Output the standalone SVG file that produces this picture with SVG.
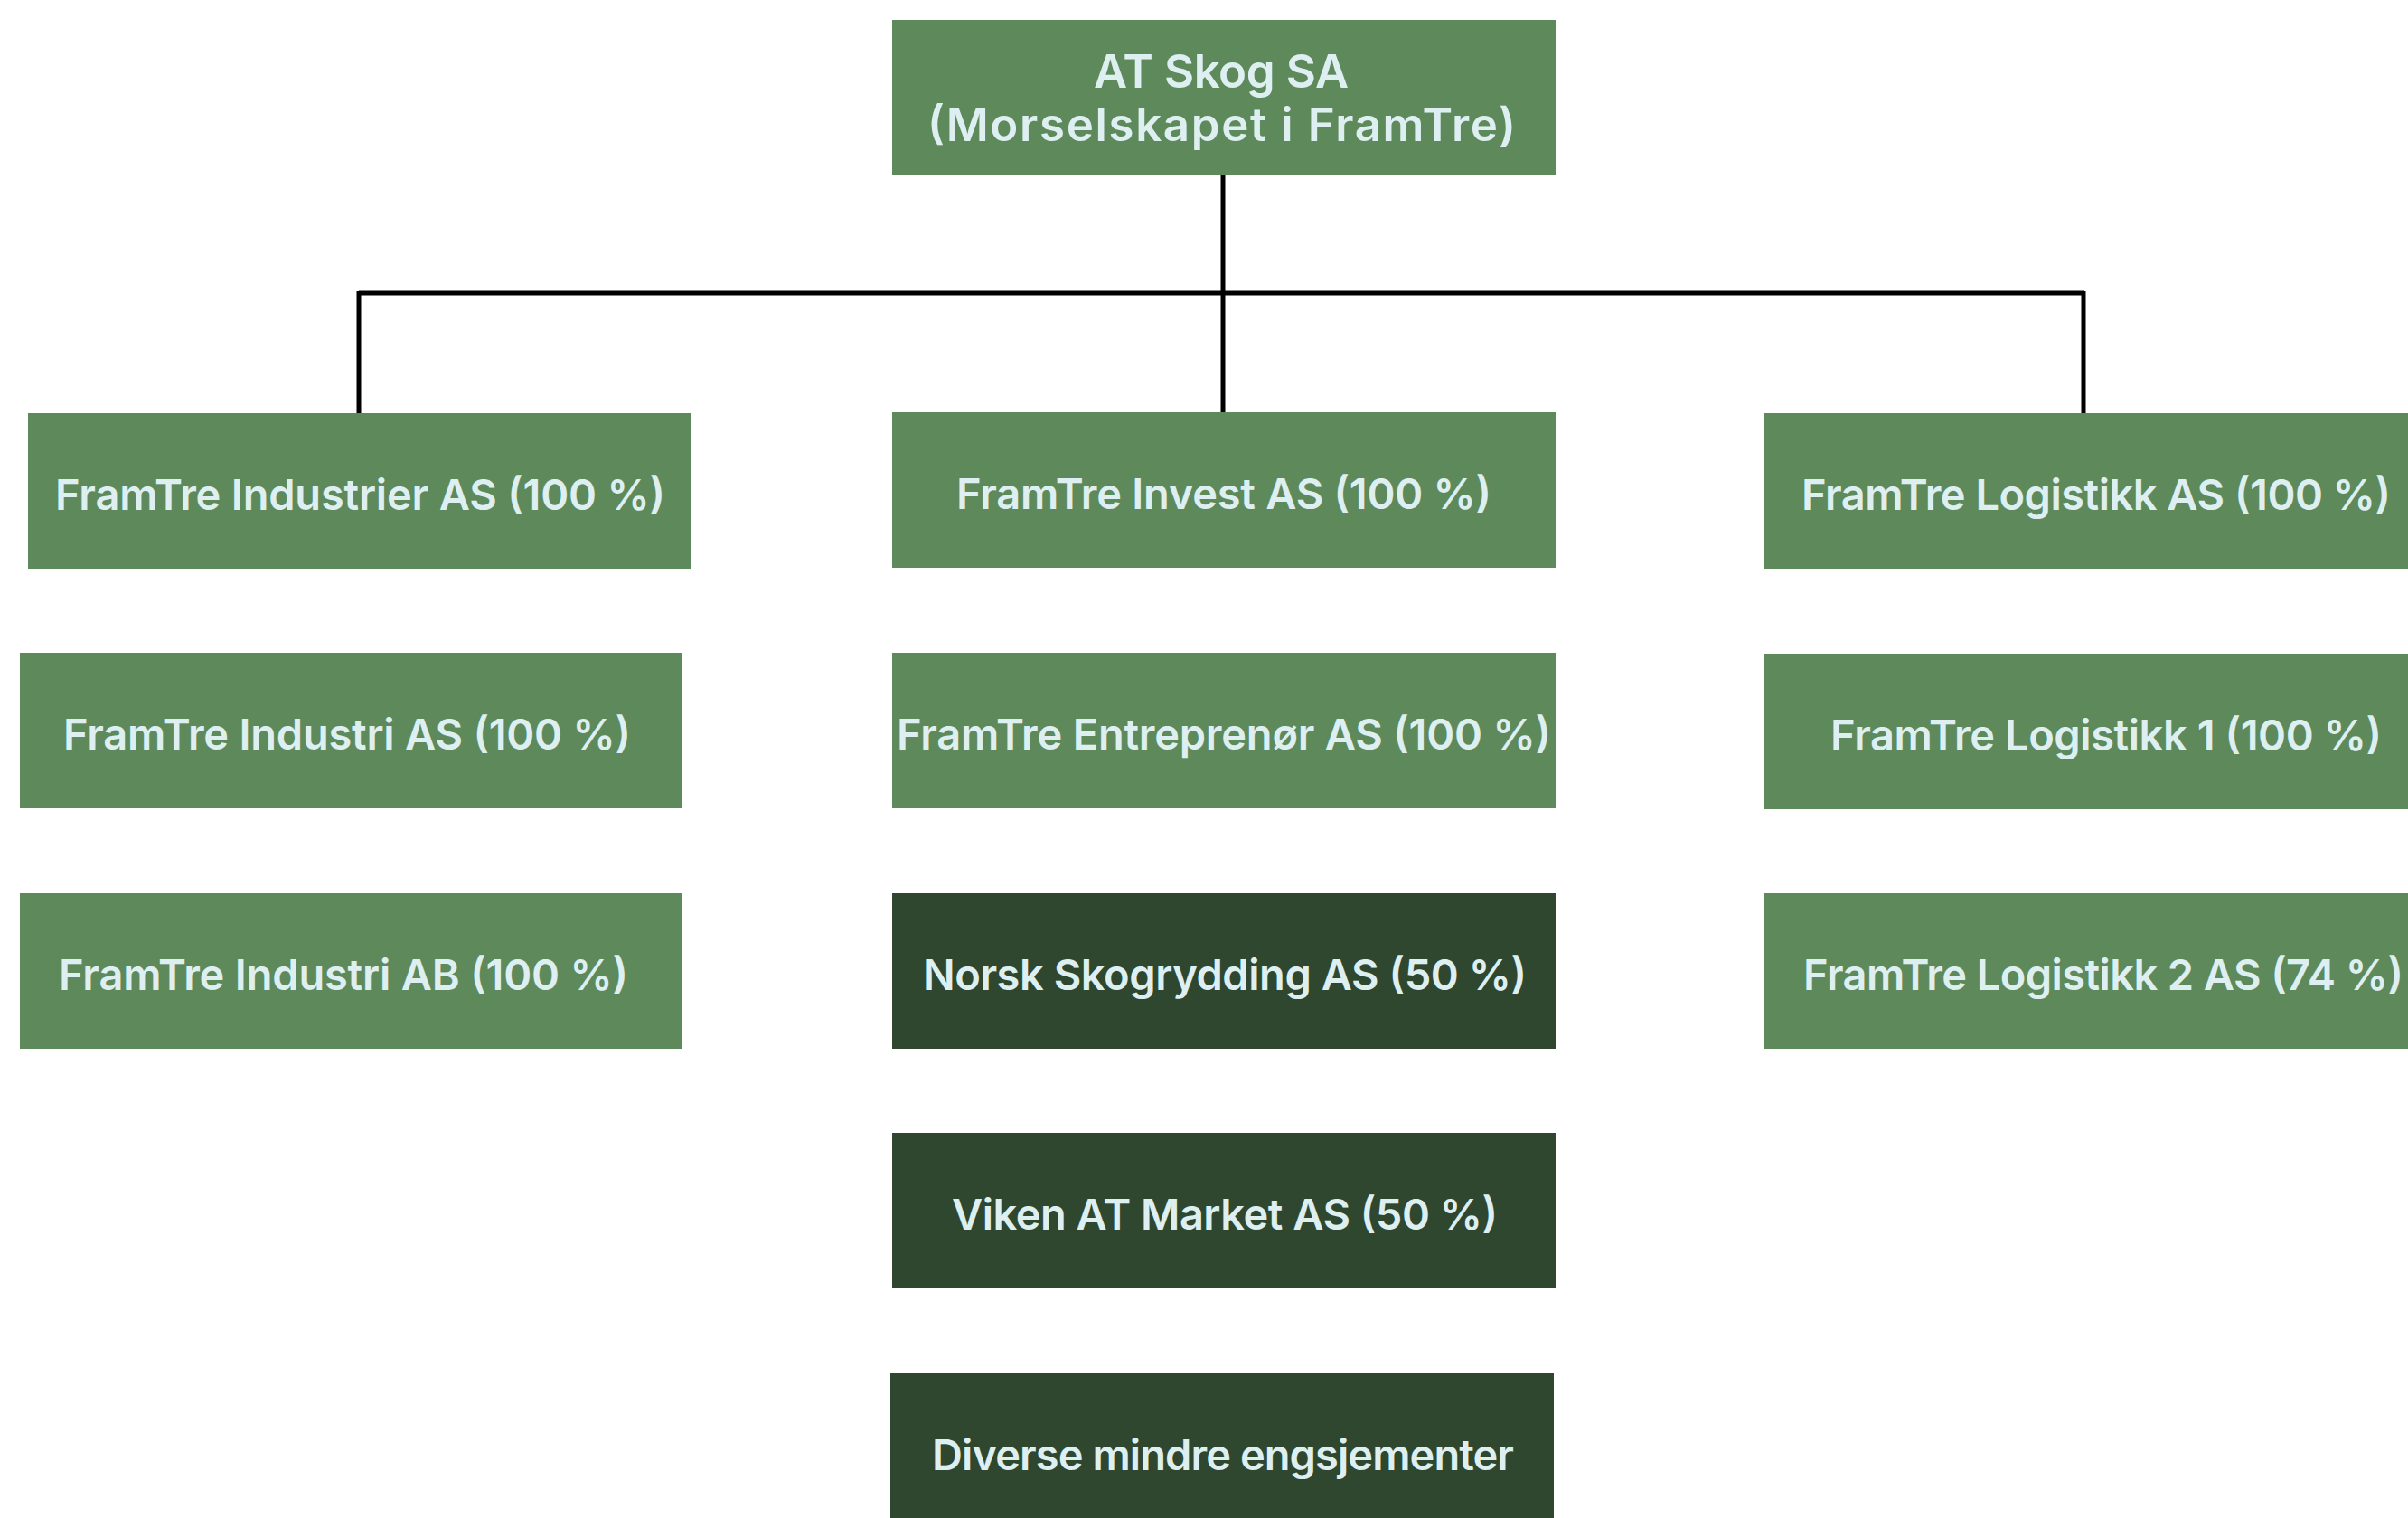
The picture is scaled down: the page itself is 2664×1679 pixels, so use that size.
<svg xmlns="http://www.w3.org/2000/svg" width="2664" height="1679" viewBox="0 0 2664 1679">
<style>
.n{fill:#5E895B}
.d{fill:#2F462F}
.t{font-family:Inter,"Open Sans","Liberation Sans",sans-serif;font-weight:600;font-size:47px;fill:#DDEFF1}
.h{font-size:51px}
.c{stroke:#000;stroke-width:5;fill:none}
</style>
<rect width="2664" height="1679" fill="#fff"/>
<g id="connectors">
<line class="c" x1="1353" y1="194" x2="1353" y2="456"/>
<line class="c" x1="397" y1="324" x2="2306" y2="324"/>
<line class="c" x1="397" y1="322" x2="397" y2="458"/>
<line class="c" x1="2305" y1="322" x2="2305" y2="458"/>
</g>
<g id="at-skog">
<rect class="n" x="987" y="22" width="734" height="172"/>
<text class="t h" x="1210" y="97" textLength="282">AT Skog SA</text>
<text class="t h" x="1026" y="156" textLength="651">(Morselskapet i FramTre)</text>
</g>
<g id="industrier">
<rect class="n" x="31" y="457" width="734" height="172"/>
<text class="t" x="61" y="564" textLength="675">FramTre Industrier AS (100 %)</text>
</g>
<g id="invest">
<rect class="n" x="987" y="456" width="734" height="172"/>
<text class="t" x="1058" y="563" textLength="592">FramTre Invest AS (100 %)</text>
</g>
<g id="logistikk">
<rect class="n" x="1952" y="457" width="734" height="172"/>
<text class="t" x="1993" y="564" textLength="652">FramTre Logistikk AS (100 %)</text>
</g>
<g id="industri-as">
<rect class="n" x="22" y="722" width="733" height="172"/>
<text class="t" x="70" y="829" textLength="628">FramTre Industri AS (100 %)</text>
</g>
<g id="entreprenor">
<rect class="n" x="987" y="722" width="734" height="172"/>
<text class="t" x="992" y="829" textLength="724">FramTre Entreprenør AS (100 %)</text>
</g>
<g id="logistikk-1">
<rect class="n" x="1952" y="723" width="734" height="172"/>
<text class="t" x="2025" y="830" textLength="610">FramTre Logistikk 1 (100 %)</text>
</g>
<g id="industri-ab">
<rect class="n" x="22" y="988" width="733" height="172"/>
<text class="t" x="65" y="1095" textLength="630">FramTre Industri AB (100 %)</text>
</g>
<g id="skogrydding">
<rect class="d" x="987" y="988" width="734" height="172"/>
<text class="t" x="1021" y="1095" textLength="668">Norsk Skogrydding AS (50 %)</text>
</g>
<g id="logistikk-2">
<rect class="n" x="1952" y="988" width="734" height="172"/>
<text class="t" x="1995" y="1095" textLength="664">FramTre Logistikk 2 AS (74 %)</text>
</g>
<g id="viken">
<rect class="d" x="987" y="1253" width="734" height="172"/>
<text class="t" x="1053" y="1360" textLength="604">Viken AT Market AS (50 %)</text>
</g>
<g id="diverse">
<rect class="d" x="985" y="1519" width="734" height="172"/>
<text class="t" x="1031" y="1626" textLength="644">Diverse mindre engsjementer</text>
</g>
</svg>
